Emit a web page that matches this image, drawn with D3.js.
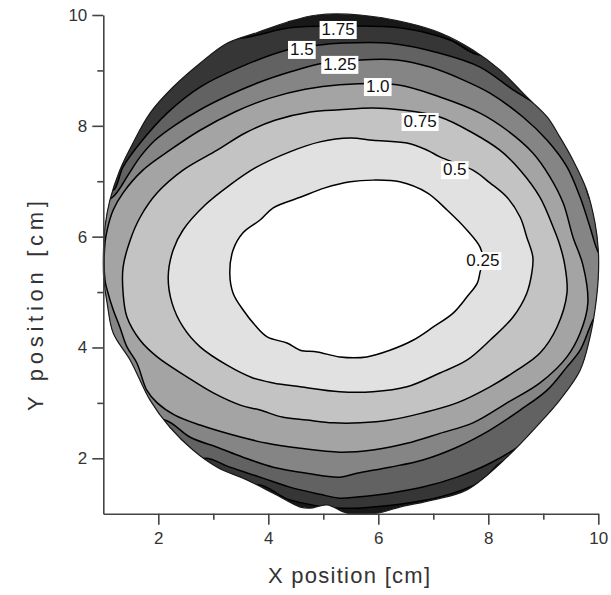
<!DOCTYPE html>
<html><head><meta charset="utf-8">
<script src="https://cdn.jsdelivr.net/npm/d3@7/dist/d3.min.js"></script>
<style>body{margin:0;background:#fff}</style>
</head><body>
<svg id="chart" width="611" height="595"></svg>
<script>
// ---- data (cm) ----
const levels = [0.25, 0.5, 0.75, 1.0, 1.25, 1.5, 1.75];
const levelLabels = ["0.25", "0.5", "0.75", "1.0", "1.25", "1.5", "1.75"];
const bandColors = ["#ffffff", "#e1e1e1", "#c3c3c3", "#a4a4a4", "#858585", "#626262", "#363636"];
const outerColor = "#181818";

const diskEdge = [[4.89,10],[5.67,10],[6.52,9.86],[7.12,9.68],[7.72,9.37],[8.21,9.01],[8.70,8.52],[9.07,8.16],[9.30,7.80],[9.54,7.38],[9.79,6.84],[9.94,6.25],[10,5.76],[10,5.27],[9.94,4.68],[9.85,4.19],[9.67,3.59],[9.30,3.05],[8.94,2.64],[8.34,2.02],[7.61,1.43],[7.00,1.25],[6.39,1.12],[5.98,1.01],[5.43,1.01],[5.07,1.16],[4.76,1.10],[4.58,1.12],[4.09,1.37],[3.61,1.61],[3.07,1.84],[2.63,2.15],[2.21,2.56],[1.85,3.05],[1.49,3.77],[1.18,4.26],[1.07,4.80],[1.01,5.22],[1.0,5.58],[1.03,6.17],[1.12,6.66],[1.30,7.20],[1.54,7.69],[1.85,8.23],[2.27,8.70],[2.76,9.13],[3.25,9.49],[3.79,9.68],[4.34,9.87]];

const contour025 = [[5.49,6.99],[5.90,7.02],[6.39,6.99],[6.89,6.79],[7.25,6.48],[7.61,6.12],[7.85,5.81],[7.90,5.58],[7.85,5.36],[7.80,5.16],[7.61,4.91],[7.36,4.62],[7.00,4.37],[6.63,4.13],[6.21,3.95],[5.79,3.83],[5.30,3.83],[4.89,3.92],[4.58,3.95],[4.34,4.08],[3.98,4.19],[3.76,4.40],[3.54,4.68],[3.36,4.98],[3.30,5.34],[3.36,5.76],[3.54,6.07],[3.85,6.30],[4.09,6.52],[4.58,6.71],[5.03,6.88]];
const contour050 = [[5.49,7.78],[5.90,7.74],[6.52,7.69],[6.89,7.56],[7.12,7.44],[7.72,7.20],[8.03,6.97],[8.34,6.71],[8.58,6.35],[8.70,5.99],[8.81,5.63],[8.79,5.34],[8.70,4.98],[8.45,4.55],[8.03,4.13],[7.61,3.77],[7.12,3.54],[6.52,3.29],[5.90,3.20],[5.30,3.20],[4.58,3.29],[4.09,3.36],[3.72,3.45],[3.25,3.68],[2.76,4.01],[2.45,4.37],[2.25,4.80],[2.18,5.27],[2.27,5.76],[2.45,6.12],[2.85,6.57],[3.30,6.93],[3.76,7.24],[4.39,7.53],[4.94,7.71]];
const contour075 = [[5.30,8.29],[5.90,8.32],[6.39,8.29],[7.12,8.16],[7.72,7.87],[8.21,7.56],[8.58,7.20],[8.94,6.71],[9.18,6.17],[9.30,5.85],[9.39,5.49],[9.43,4.98],[9.25,4.37],[8.94,3.90],[8.52,3.59],[8.03,3.29],[7.43,3.00],[6.81,2.82],[6.21,2.69],[5.67,2.64],[5.18,2.64],[4.70,2.69],[4.27,2.74],[3.85,2.87],[3.49,2.96],[3.00,3.18],[2.52,3.47],[1.98,3.83],[1.67,4.13],[1.43,4.55],[1.36,4.98],[1.36,5.45],[1.49,5.94],[1.67,6.35],[1.98,6.79],[2.45,7.20],[3.07,7.56],[3.58,7.87],[4.12,8.10],[4.76,8.25]];
const contour100 = [[5.30,8.74],[6.34,8.74],[7.12,8.52],[7.85,8.23],[8.34,7.92],[8.81,7.51],[9.12,7.08],[9.36,6.61],[9.54,5.99],[9.72,5.49],[9.81,4.80],[9.67,4.26],[9.43,3.83],[8.94,3.36],[8.34,3.00],[7.72,2.64],[7.12,2.45],[6.52,2.27],[5.90,2.15],[5.30,2.11],[4.58,2.18],[3.98,2.27],[3.36,2.42],[2.76,2.60],[2.30,2.78],[1.98,3.00],[1.79,3.23],[1.61,3.72],[1.43,4.01],[1.30,4.37],[1.18,4.68],[1.07,5.04],[1.03,5.22],[1.03,5.88],[1.07,6.12],[1.18,6.48],[1.36,6.79],[1.72,7.20],[2.21,7.56],[2.76,7.92],[3.39,8.25],[4.03,8.50],[4.67,8.66]];
const contour125 = [[4.94,9.12],[5.30,9.15],[5.67,9.19],[6.34,9.19],[6.94,9.06],[7.54,8.83],[8.03,8.59],[8.63,8.16],[9.07,7.74],[9.43,7.26],[9.67,6.71],[9.85,6.17],[9.98,5.76],[10.3,5.13],[9.92,4.53],[9.67,3.95],[9.43,3.65],[9.07,3.23],[8.58,2.87],[8.03,2.51],[7.43,2.20],[6.81,1.97],[6.21,1.84],[5.61,1.73],[5.30,1.66],[4.70,1.73],[4.09,1.84],[3.54,2.02],[3.07,2.20],[2.58,2.38],[2.12,2.69],[1.30,2.69],[0.58,4.31],[0.67,6.30],[1.21,6.75],[1.45,7.11],[1.67,7.44],[1.94,7.74],[2.30,8.01],[2.76,8.29],[3.30,8.56],[3.85,8.79],[4.39,8.97]];
const contour150 = [[4.34,9.37],[4.94,9.46],[5.30,9.49],[6.21,9.49],[7.12,9.31],[7.85,9.06],[8.45,8.65],[8.94,8.34],[9.25,8.05],[9.54,7.56],[9.72,7.08],[9.85,6.66],[10.76,4.86],[9.67,2.87],[9.18,2.87],[9.07,2.69],[8.63,2.27],[8.03,1.91],[7.43,1.66],[6.81,1.48],[6.21,1.37],[5.61,1.30],[5.30,1.28],[4.94,1.35],[4.39,1.48],[3.85,1.66],[3.30,1.84],[2.85,2.00],[2.21,1.79],[0.58,4.86],[0.94,7.02],[1.18,6.84],[1.36,7.26],[1.67,7.69],[2.16,8.23],[2.76,8.70],[3.49,9.06]];
const contour175 = [[3.49,9.58],[4.39,9.77],[5.30,9.80],[6.39,9.77],[7.30,9.55],[7.85,9.28],[8.58,9.55],[10.94,5.40],[8.94,0.88],[8.30,1.93],[7.85,1.57],[7.12,1.30],[6.39,1.17],[5.90,1.12],[5.30,1.10],[4.39,1.25],[3.76,1.52],[2.76,0.70],[-0.15,5.40],[1.85,9.55]];
const contours = [contour025, contour050, contour075, contour100, contour125, contour150, contour175];

const labelPos = [[7.90,5.58],[7.39,7.22],[6.76,8.09],[5.99,8.72],[5.30,9.12],[4.61,9.39],[5.27,9.75]];

const xMajor = [2, 4, 6, 8, 10], xMinor = [3, 5, 7, 9];
const yMajor = [2, 4, 6, 8, 10], yMinor = [3, 5, 7, 9];

// ---- drawing ----
const svg = d3.select("#chart");
const x = d3.scaleLinear().domain([1, 10]).range([103.3, 598.3]);
const y = d3.scaleLinear().domain([1, 10]).range([513.7, 15]);
const smooth = d3.line().x(d => x(d[0])).y(d => y(d[1])).curve(d3.curveCatmullRomClosed.alpha(0.5));

svg.append("clipPath").attr("id", "disk")
  .append("path").attr("d", smooth(diskEdge));

const plot = svg.append("g").attr("clip-path", "url(#disk)");
plot.append("path").attr("d", smooth(diskEdge)).attr("fill", outerColor);

for (let i = contours.length - 1; i >= 0; i--) {
  plot.append("path").attr("d", smooth(contours[i])).attr("fill", bandColors[i]);
}
for (let i = contours.length - 1; i >= 0; i--) {
  plot.append("path").attr("d", smooth(contours[i]))
    .attr("fill", "none").attr("stroke", "#000").attr("stroke-width", 1.5);
}
svg.append("path").attr("d", smooth(diskEdge))
  .attr("fill", "none").attr("stroke", "#1a1a1a").attr("stroke-width", 1.2);

const font = "'Liberation Sans', Arial, sans-serif";

// contour labels
const lab = svg.append("g");
levels.forEach((lv, i) => {
  const g = lab.append("g").attr("transform", `translate(${x(labelPos[i][0])},${y(labelPos[i][1])})`);
  const r = g.append("rect").attr("fill", "#fff");
  const t = g.append("text").attr("text-anchor", "middle").attr("dy", "0.36em")
    .style("font-family", font).style("font-size", "17px")
    .attr("fill", "#111").text(levelLabels[i]);
  const bb = t.node().getBBox();
  r.attr("x", bb.x - 2).attr("y", bb.y + 1).attr("width", bb.width + 4).attr("height", bb.height - 1);
});

// axes
const axisColor = "#444";
const gx = svg.append("g").attr("transform", `translate(0,${y(1)})`);
gx.call(d3.axisBottom(x).tickValues(xMajor).tickSize(11).tickSizeOuter(0).tickPadding(7).tickFormat(d3.format("d")));
const gxm = svg.append("g").attr("transform", `translate(0,${y(1)})`);
gxm.call(d3.axisBottom(x).tickValues(xMinor).tickSize(6).tickSizeOuter(0).tickFormat(""));
gxm.select(".domain").remove();

const gy = svg.append("g").attr("transform", `translate(${x(1)},0)`);
gy.call(d3.axisLeft(y).tickValues(yMajor).tickSize(11).tickSizeOuter(0).tickPadding(5).tickFormat(d3.format("d")));
const gym = svg.append("g").attr("transform", `translate(${x(1)},0)`);
gym.call(d3.axisLeft(y).tickValues(yMinor).tickSize(6).tickSizeOuter(0).tickFormat(""));
gym.select(".domain").remove();

svg.selectAll(".domain").attr("stroke", axisColor).attr("stroke-width", 1.6);
svg.selectAll(".tick line").attr("stroke", axisColor).attr("stroke-width", 1.6);
svg.selectAll(".tick text").style("font-family", font).style("font-size", "17px").attr("fill", "#333");

svg.append("text").attr("x", 349).attr("y", 583).attr("text-anchor", "middle")
  .style("font-family", font).style("font-size", "22px").attr("fill", "#333")
  .attr("textLength", 162).attr("lengthAdjust", "spacing")
  .text("X position [cm]");
svg.append("text").attr("transform", "translate(43,306) rotate(-90)").attr("text-anchor", "middle")
  .style("font-family", font).style("font-size", "22px").attr("fill", "#333")
  .attr("textLength", 210).attr("lengthAdjust", "spacing")
  .text("Y position [cm]");
</script>
</body></html>
